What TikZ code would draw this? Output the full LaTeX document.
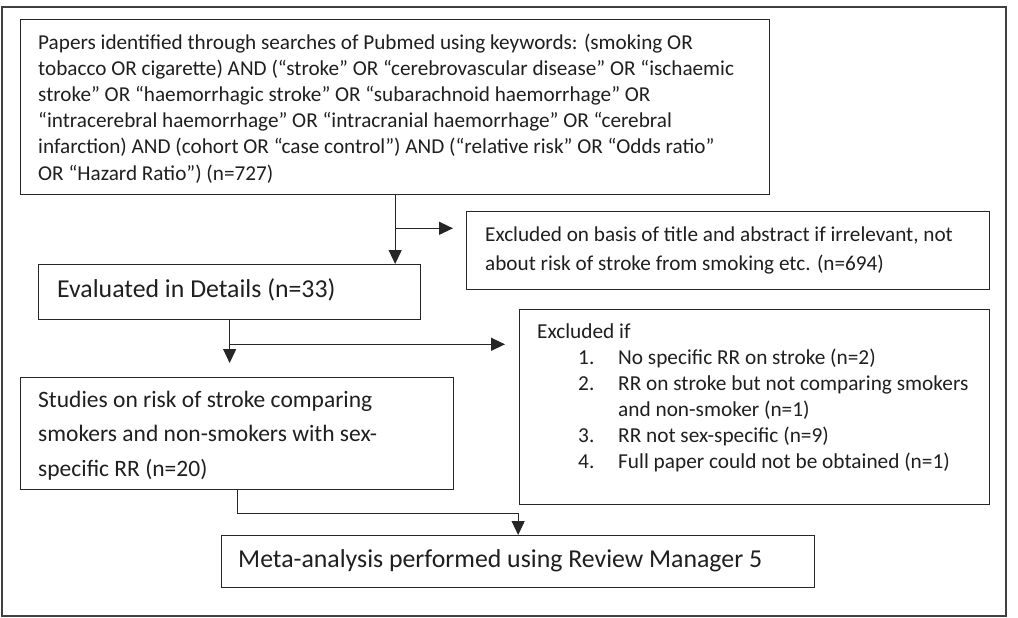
\documentclass[tikz,border=0pt]{standalone}
\usepackage{fontspec}
\setmainfont{Carlito}
\usetikzlibrary{arrows.meta,calc}
\begin{document}
\begin{tikzpicture}[x=1pt,y=-1pt,
  box/.style={draw=black!85, line width=1.3pt, inner sep=0pt, anchor=north west},
  txt/.style={anchor=base west, inner sep=0pt, align=left, text=black!88},
  conn/.style={draw=black!85, line width=1.3pt},
  arr/.style={conn, -{Triangle[length=14pt,width=13pt]}},
  fsmall/.style={font=\fontsize{21.2pt}{26.2pt}\selectfont},
  fexcl/.style={font=\fontsize{21.2pt}{29pt}\selectfont},
  flist/.style={font=\fontsize{21.3pt}{26pt}\selectfont},
  fmid/.style={font=\fontsize{23.5pt}{34.5pt}\selectfont},
  fbig/.style={font=\fontsize{25.8pt}{30pt}\selectfont}
]
\useasboundingbox (0,0) rectangle (1018,618);
\draw[black!75, line width=1.2pt] (2,7) rectangle (1006,616);

% boxes
\node[box, minimum width=749pt, minimum height=175pt] (search) at (20,19) {};
\node[box, minimum width=523pt, minimum height=78pt] (excl1) at (466,211) {};
\node[box, minimum width=382pt, minimum height=55pt] (eval) at (38,264) {};
\node[box, minimum width=470pt, minimum height=195pt] (excl2) at (519,309) {};
\node[box, minimum width=433pt, minimum height=112pt] (studies) at (20,377) {};
\node[box, minimum width=593pt, minimum height=52pt] (meta) at (221,535) {};

% texts (base anchor = baseline of last line)
\node[txt, fsmall] (tsearch) at (38,180) {Papers identified through searches of Pubmed using keywords: (smoking OR\\
tobacco OR cigarette) AND (“stroke” OR “cerebrovascular disease” OR “ischaemic\\
stroke” OR “haemorrhagic stroke” OR “subarachnoid haemorrhage” OR\\
“intracerebral haemorrhage” OR “intracranial haemorrhage” OR “cerebral\\
infarction) AND (cohort OR “case control”) AND (“relative risk” OR “Odds ratio”\\
OR “Hazard Ratio”) (n=727)};
\node[txt, fexcl] (texcl1) at (485,270) {Excluded on basis of title and abstract if irrelevant, not\\
about risk of stroke from smoking etc. (n=694)};
\node[txt, fbig] (teval) at (57,297) {Evaluated in Details (n=33)};
\node[txt, flist] (texcl2) at (537,468) {Excluded if\\
\hspace*{41pt}\makebox[40pt][l]{1.}No specific RR on stroke (n=2)\\
\hspace*{41pt}\makebox[40pt][l]{2.}RR on stroke but not comparing smokers\\
\hspace*{81pt}and non-smoker (n=1)\\
\hspace*{41pt}\makebox[40pt][l]{3.}RR not sex-specific (n=9)\\
\hspace*{41pt}\makebox[40pt][l]{4.}Full paper could not be obtained (n=1)};
\node[txt, fmid] (tstudies) at (38,476) {Studies on risk of stroke comparing\\
smokers and non-smokers with sex-\\
specific RR (n=20)};
\node[txt, fbig] (tmeta) at (238,567) {Meta-analysis performed using Review Manager 5};

% connectors
\draw[arr] (search.south) -- (search.south |- eval.north);
\coordinate (b1) at ($(search.south)+(0,33)$);
\draw[arr, shorten >=13pt] (b1) -- (b1 -| excl1.west);
\draw[arr, shorten >=14pt] (eval.south) -- (eval.south |- studies.north);
\coordinate (b2) at ($(eval.south)+(0,24)$);
\draw[arr, shorten >=14pt] (b2) -- (b2 -| excl2.west);
\draw[arr] (studies.south) -- ++(0,23) -| (meta.north);
\end{tikzpicture}
\end{document}
